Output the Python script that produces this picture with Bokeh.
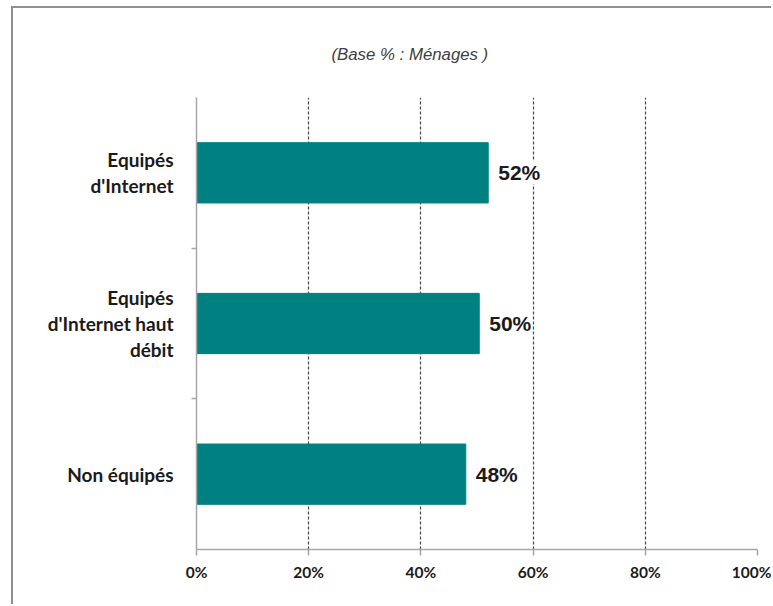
from bokeh.plotting import figure
from bokeh.models import (FactorRange, Range1d, CategoricalAxis, FixedTicker,
                          ColumnDataSource, LabelSet)
from bokeh.core.properties import value
from bokeh.embed import file_html
from bokeh.resources import INLINE

# ---- data ----
categories = ["Equipés\nd'Internet", "Equipés\nd'Internet haut\ndébit", "Non équipés"]
values = [52.0, 50.4, 48.0]
value_labels = ["52%", "50%", "48%"]
x_ticks = [0, 20, 40, 60, 80, 100]
x_tick_labels = ["0%", "20%", "40%", "60%", "80%", "100%"]
slot_boundaries = ["b0", "b1", "b2", "b3"]
title_text = "(Base % : Ménages )"

src = ColumnDataSource(dict(cat=categories, val=values, lbl=value_labels))

p = figure(width=760, height=598,
           x_range=Range1d(0, 100),
           y_range=FactorRange(factors=list(reversed(categories)), range_padding=0),
           y_axis_location=None,
           output_backend="svg", toolbar_location=None,
           min_border_left=183, min_border_right=16, min_border_top=89, min_border_bottom=57)
p.margin = (6, 0, 0, 11)
p.outline_line_color = None
p.background_fill_color = "white"
p.border_fill_color = "white"
p.styles = {"border-left": "2px solid #8f8f8f", "border-top": "2px solid #8f8f8f"}

# title
p.title.text = title_text
p.title.text_font = "Liberation Sans"
p.title.text_font_style = "italic"
p.title.text_font_size = "16.8px"
p.title.text_color = "#404040"
p.title.align = "left"
p.title.offset = 135
if "standoff" in p.title.properties():
    p.title.standoff = 67

# grid
p.ygrid.visible = False
p.xgrid.ticker = FixedTicker(ticks=x_ticks[1:])
p.xgrid.grid_line_color = "#454545"
p.xgrid.grid_line_dash = "3 2"
p.xgrid.grid_line_width = 1.2

# x axis
xa = p.xaxis[0]
xa.ticker = FixedTicker(ticks=x_ticks)
xa.major_label_overrides = dict(zip(x_ticks, x_tick_labels))
xa.axis_line_color = "#a6a6a6"
xa.axis_line_width = 1.5
xa.major_tick_line_color = "#a6a6a6"
xa.major_tick_line_width = 1.5
xa.major_tick_out = 6
xa.major_tick_in = 0
xa.minor_tick_line_color = None
xa.major_label_standoff = 7
xa.major_label_text_font = "Lato"
xa.major_label_text_font_style = "bold"
xa.major_label_text_font_size = "15.5px"
xa.major_label_text_color = "#1a1a1a"

# left axes: boundary ticks (factors centred on category edges) + category labels
p.extra_y_ranges = {"bounds": FactorRange(factors=slot_boundaries, range_padding=-0.5,
                                          range_padding_units="absolute")}
tick_axis = CategoricalAxis(y_range_name="bounds",
                            axis_line_color="#a6a6a6", axis_line_width=1.5,
                            major_tick_line_color="#a6a6a6", major_tick_line_width=1.5,
                            major_tick_out=5, major_tick_in=0, minor_tick_line_color=None,
                            major_label_text_font_size="1px", major_label_text_color=None,
                            major_label_standoff=0)
cat_axis = CategoricalAxis(axis_line_color=None, major_tick_line_color=None,
                           major_tick_out=0, major_tick_in=0, major_label_standoff=18,
                           major_label_text_font="Lato", major_label_text_font_style="bold",
                           major_label_text_font_size="19px", major_label_text_color="#1a1a1a",
                           major_label_text_line_height=1.12)
p.add_layout(tick_axis, "left")
p.add_layout(cat_axis, "left")

# bars
p.hbar(y="cat", left=0, right="val", height=0.4, source=src,
       fill_color="#008080", line_color="#008080")

# value labels
labels = LabelSet(x="val", y="cat", text="lbl", source=src, x_offset=10,
                  text_align="left", text_baseline="middle",
                  text_font=value("Liberation Sans"), text_font_style="bold",
                  text_font_size="21px", text_color="#1a1a1a",
                  background_fill_color="white")
p.add_layout(labels)

open("out.html", "w").write(file_html(p, INLINE))
